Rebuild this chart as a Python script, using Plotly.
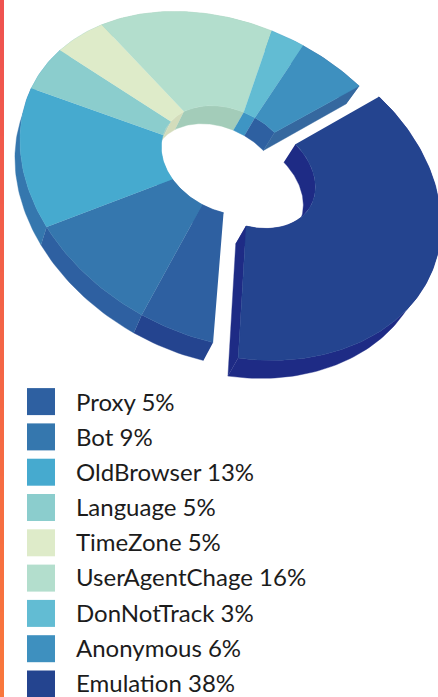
import numpy as np
import plotly.graph_objects as go

# Share of each detection category, in percent, clockwise from the front gap
categories = ["Proxy", "Bot", "OldBrowser", "Language", "TimeZone",
              "UserAgentChage", "DonNotTrack", "Anonymous", "Emulation"]
shares = [5, 9, 13, 5, 5, 16, 3, 6, 38]

# Top face, then outer rim, then inner wall of the ring
top_colors = ["#2e60a1", "#3577ae", "#46aacf", "#8bcdcd", "#deebc9",
              "#b3decd", "#62bcd3", "#3e90bf", "#24448f"]
rim_colors = ["#24448f", "#2e60a1", "#3577ae", "#46aacf", "#8bcdcd",
              "#a3ccb9", "#3e95c4", "#35689f", "#1e2b85"]
wall_colors = ["#2e60a1", "#3577ae", "#46aacf", "#b5d3c0", "#d3dcbb",
               "#a3ccb9", "#3e95c4", "#2e60a1", "#1e2b85"]

# Plane-to-page projection of the tilted ring (page units are pixels)
HOLE = 0.33
EXPLODE = 0.118
PROJ = np.array([[-45.63532, -203.92039, 227.95868],
                 [135.04354, -53.00446, 158.07751],
                 [-0.14433, -0.01588, 1.0]])


def project(radius, angle, dx=0.0, dy=0.0):
    px = radius * np.cos(angle) + dx
    py = radius * np.sin(angle) + dy
    page = PROJ @ np.vstack([px, py, np.ones_like(px)])
    return page[0] / page[2], page[1] / page[2]


def polygon(fig, xs, ys, color, name):
    fig.add_trace(go.Scatter(x=xs, y=ys, mode="lines", fill="toself",
                             fillcolor=color, name=name, hoverinfo="name",
                             line=dict(color=color, width=0.4)))


def extrude(fig, xs, ys, color, name):
    # Side faces lean further left toward the right of the page (perspective)
    low_x = xs - 4.5 - 0.024 * xs
    low_y = ys + 18.0
    polygon(fig, np.concatenate([xs, low_x[::-1]]), np.concatenate([ys, low_y[::-1]]),
            color, name)


fig = go.Figure()

# Page edge strip, red at the top and orange at the bottom
strip = []
for i in range(41):
    f = i / 40
    colour = "rgb(%d,%d,%d)" % (239 + 10 * f, 83 + 36 * f, 80 - 20 * f)
    strip.append(dict(type="rect", x0=0, x1=4, y0=i * 17, y1=(i + 1) * 17,
                      fillcolor=colour, line_width=0, layer="below"))

edges = np.cumsum([0] + shares) / sum(shares) * 2 * np.pi
slices = []
for k, name in enumerate(categories):
    ang = np.linspace(edges[k], edges[k + 1], max(int(shares[k] * 3), 8))
    dx, dy = (0.0, 0.0)
    rim = np.ones_like(ang)
    # Only the largest slice is pulled out of the ring; its far edge flattens a little
    if shares[k] == max(shares):
        mid = (edges[k] + edges[k + 1]) / 2
        dx, dy = EXPLODE * np.cos(mid), EXPLODE * np.sin(mid)
        s = (ang - ang[0]) / (ang[-1] - ang[0])
        rim = 1.0 - 0.055 * np.sin(np.pi * s ** 1.5)
    px = rim * np.cos(ang) + dx
    py = rim * np.sin(ang) + dy
    page = PROJ @ np.vstack([px, py, np.ones_like(px)])
    slices.append((name, k, (page[0] / page[2], page[1] / page[2]),
                   project(HOLE, ang, dx, dy)))

# Back to front: side faces first, top faces over them
for name, k, (ox, oy), (ix, iy) in slices:
    extrude(fig, ox, oy, rim_colors[k], name)
    extrude(fig, ix, iy, wall_colors[k], name)

# Cut faces that turn toward the viewer
for name, k, (ox, oy), (ix, iy) in slices:
    if name in ("Anonymous", "Emulation"):
        cx, cy = np.array([ox[-1], ix[-1]]), np.array([oy[-1], iy[-1]])
        extrude(fig, cx, cy, rim_colors[k], name)

for name, k, (ox, oy), (ix, iy) in slices:
    polygon(fig, np.concatenate([ox, ix[::-1]]), np.concatenate([oy, iy[::-1]]),
            top_colors[k], name)

# Key below the ring
swatches = []
labels = []
for k, name in enumerate(categories):
    yc = 401.6 + k * 35.3
    swatches.append(dict(type="rect", x0=27, x1=55, y0=yc - 13.5, y1=yc + 13.5,
                         fillcolor=top_colors[k], line_width=0))
    labels.append(dict(x=73.8, y=401 + k * 35.18, xref="x", yref="y",
                       xanchor="left", yanchor="middle",
                       text=f"{name} {shares[k]}%", showarrow=False,
                       font=dict(family="Lato", size=24, color="#1c1c1c")))

fig.update_layout(
    width=438, height=697, margin=dict(l=0, r=0, t=0, b=0),
    paper_bgcolor="white", plot_bgcolor="white", showlegend=False,
    xaxis=dict(range=[0, 438], visible=False, fixedrange=True),
    yaxis=dict(range=[697, 0], visible=False, fixedrange=True),
    shapes=strip + swatches, annotations=labels,
)
fig.write_html("out.html", config=dict(displayModeBar=False))
